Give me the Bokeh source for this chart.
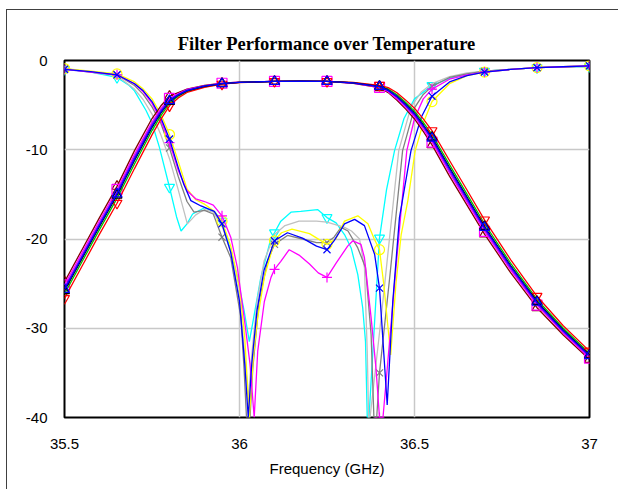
from bokeh.plotting import figure
from bokeh.models import FixedTicker
from bokeh.embed import file_html
from bokeh.resources import INLINE

TITLE = "Filter Performance over Temperature"
X_LABEL = "Frequency (GHz)"
X_TICKS = [35.5, 36.0, 36.5, 37.0]
X_TICK_LABELS = ["35.5", "36", "36.5", "37"]
Y_TICKS = [0, -10, -20, -30, -40]
Y_TICK_LABELS = ["0", "-10", "-20", "-30", "-40"]
MARKER_F = [35.5, 35.65, 35.8, 35.95, 36.1, 36.25, 36.4, 36.55, 36.7, 36.85, 37.0]

# ---- S21 (transmission) traces, one per temperature ----
F21 = [35.5, 35.55, 35.6, 35.65, 35.7, 35.75, 35.775, 35.8, 35.825, 35.85, 35.9, 35.95, 36.0,
       36.1, 36.175, 36.25, 36.325, 36.4, 36.425, 36.45, 36.475, 36.5, 36.525, 36.55, 36.6,
       36.65, 36.7, 36.775, 36.85, 36.925, 37.0]
S21_MAROON = [-24.8, -21.2, -17.6, -14.1, -10.1, -6.5, -5.1, -4.0, -3.6, -3.2, -2.8, -2.55, -2.42,
              -2.35, -2.3, -2.35, -2.55, -3.05, -3.6, -4.45, -5.45, -6.55, -7.95, -9.45, -12.95,
              -16.2, -19.45, -23.8, -27.7, -30.75, -33.5]
S21_MAGENTA = [-25.15, -21.55, -17.95, -14.45, -10.5, -6.9, -5.4, -4.25, -3.7, -3.25, -2.85, -2.55, -2.43,
               -2.35, -2.3, -2.35, -2.53, -3.0, -3.5, -4.3, -5.25, -6.3, -7.7, -9.15, -12.6,
               -15.9, -19.15, -23.5, -27.4, -30.55, -33.35]
S21_VIOLET = [-25.45, -21.85, -18.25, -14.75, -10.8, -7.15, -5.6, -4.4, -3.8, -3.3, -2.85, -2.6, -2.44,
              -2.35, -2.3, -2.35, -2.52, -2.95, -3.4, -4.15, -5.1, -6.15, -7.45, -8.9, -12.35,
              -15.65, -18.9, -23.3, -27.25, -30.4, -33.2]
S21_BLUE = [-25.65, -22.05, -18.45, -14.95, -11.05, -7.35, -5.8, -4.5, -3.85, -3.37, -2.88, -2.6, -2.45,
            -2.35, -2.3, -2.35, -2.5, -2.92, -3.35, -4.05, -4.98, -5.99, -7.3, -8.72, -12.13,
            -15.43, -18.72, -23.1, -27.1, -30.28, -33.07]
S21_BLACK = [-25.8, -22.2, -18.6, -15.1, -11.2, -7.5, -5.9, -4.6, -3.9, -3.4, -2.9, -2.6, -2.45,
             -2.35, -2.3, -2.35, -2.5, -2.9, -3.3, -4.0, -4.9, -5.9, -7.2, -8.6, -12.0,
             -15.3, -18.6, -23.0, -27.0, -30.2, -33.0]
S21_GREEN = [-26.15, -22.55, -18.95, -15.45, -11.6, -7.85, -6.2, -4.8, -4.0, -3.48, -2.94, -2.62, -2.46,
             -2.35, -2.3, -2.35, -2.49, -2.85, -3.19, -3.84, -4.71, -5.67, -6.93, -8.29, -11.66,
             -14.97, -18.29, -22.72, -26.76, -30.0, -32.8]
S21_RED = [-26.66, -23.06, -19.45, -15.99, -12.11, -8.33, -6.6, -5.08, -4.19, -3.58, -3.0, -2.65, -2.47,
           -2.35, -2.3, -2.35, -2.46, -2.78, -3.04, -3.62, -4.44, -5.35, -6.55, -7.86, -11.2,
           -14.51, -17.86, -22.33, -26.42, -29.72, -32.56]

# ---- S11 (return loss) traces, one per temperature ----
F11_CYAN = [35.5, 35.575, 35.65, 35.685, 35.7, 35.733, 35.75, 35.771, 35.8, 35.82, 35.833, 35.85, 35.866,
            35.9, 35.93, 35.95, 35.975, 35.994, 36.013, 36.028, 36.037, 36.061, 36.09, 36.1, 36.118,
            36.147, 36.175, 36.223, 36.25, 36.276, 36.3, 36.319, 36.338, 36.352, 36.36, 36.365, 36.37,
            36.4, 36.42, 36.443, 36.47, 36.5, 36.55, 36.6, 36.65, 36.7, 36.775, 36.85, 36.925, 37.0]
S11_CYAN = [-1.0, -1.3, -1.9, -2.8, -3.4, -5.6, -7.0, -9.7, -14.2, -17.5, -19.1, -18.3, -17.2,
            -16.5, -17.0, -18.0, -21.3, -24.3, -28.0, -31.5, -29.6, -24.3, -19.9, -19.3, -18.0,
            -17.0, -16.9, -16.7, -17.6, -18.2, -19.5, -21.0, -24.0, -27.7, -31.5, -40.0, -40.0,
            -19.9, -14.5, -10.1, -6.5, -4.3, -2.8, -2.0, -1.5, -1.2, -1.0, -0.8, -0.7, -0.7]

F11_SILVER = [35.5, 35.575, 35.65, 35.7, 35.725, 35.75, 35.775, 35.8, 35.825, 35.851, 35.875, 35.9, 35.925,
              35.95, 35.975, 36.0, 36.015, 36.025, 36.035, 36.05, 36.07, 36.1, 36.13, 36.17, 36.22,
              36.25, 36.3, 36.32, 36.343, 36.357, 36.365, 36.369, 36.373, 36.4, 36.415, 36.455, 36.49,
              36.52, 36.55, 36.6, 36.65, 36.7, 36.775, 36.85, 36.925, 37.0]
S11_SILVER = [-0.9, -1.3, -1.7, -3.2, -4.4, -6.0, -8.3, -11.0, -14.5, -18.3, -17.3, -16.7, -17.0,
              -18.5, -21.5, -26.5, -33.0, -38.0, -33.0, -27.0, -22.5, -19.5, -18.5, -18.0, -18.0,
              -18.1, -18.7, -19.1, -20.0, -23.2, -32.6, -40.0, -40.0, -30.5, -25.0, -10.1, -5.2,
              -3.5, -2.6, -1.8, -1.4, -1.2, -1.0, -0.8, -0.7, -0.7]

F11_GRAY = [35.5, 35.575, 35.65, 35.7, 35.725, 35.75, 35.775, 35.8, 35.825, 35.85, 35.87, 35.9, 35.925,
            35.95, 35.975, 36.004, 36.013, 36.02, 36.03, 36.038, 36.056, 36.08, 36.1, 36.137, 36.18,
            36.22, 36.25, 36.27, 36.29, 36.31, 36.338, 36.36, 36.376, 36.384, 36.392, 36.4, 36.43,
            36.466, 36.5, 36.525, 36.55, 36.6, 36.65, 36.7, 36.775, 36.85, 36.925, 37.0]
S11_GRAY = [-0.9, -1.3, -1.6, -2.8, -3.8, -5.2, -7.0, -9.8, -13.0, -15.8, -17.0, -16.8, -17.2,
            -19.8, -22.1, -28.8, -34.5, -40.0, -40.0, -34.5, -27.0, -22.5, -20.6, -19.6, -20.0,
            -20.4, -20.4, -19.8, -18.7, -19.1, -21.0, -23.2, -30.7, -40.0, -40.0, -35.0, -24.0,
            -10.1, -5.3, -3.8, -2.9, -1.9, -1.5, -1.2, -1.0, -0.8, -0.7, -0.6]

F11_YELLOW = [35.5, 35.575, 35.65, 35.7, 35.725, 35.75, 35.775, 35.8, 35.825, 35.85, 35.875, 35.9, 35.925,
              35.95, 35.975, 36.0, 36.015, 36.028, 36.04, 36.052, 36.071, 36.1, 36.12, 36.15, 36.2,
              36.25, 36.275, 36.3, 36.338, 36.367, 36.385, 36.4, 36.412, 36.432, 36.447, 36.462, 36.481,
              36.502, 36.525, 36.55, 36.6, 36.65, 36.7, 36.775, 36.85, 36.925, 37.0]
S11_YELLOW = [-0.9, -1.2, -1.5, -2.4, -3.2, -4.3, -6.0, -8.3, -11.3, -14.4, -15.6, -16.1, -16.8,
              -18.0, -20.8, -25.5, -31.0, -40.0, -33.0, -28.8, -24.3, -20.2, -19.3, -18.9, -19.4,
              -20.6, -20.0, -18.0, -17.4, -18.3, -20.0, -21.2, -25.0, -33.0, -25.0, -19.5, -15.7,
              -10.1, -7.0, -4.6, -2.6, -1.7, -1.3, -1.0, -0.8, -0.7, -0.6]

F11_BLUE = [35.5, 35.575, 35.65, 35.7, 35.725, 35.75, 35.775, 35.8, 35.825, 35.841, 35.861, 35.89, 35.928,
            35.95, 35.975, 36.0, 36.015, 36.025, 36.035, 36.05, 36.07, 36.1, 36.137, 36.18, 36.22,
            36.25, 36.27, 36.3, 36.329, 36.357, 36.386, 36.4, 36.422, 36.438, 36.457, 36.49, 36.52,
            36.55, 36.6, 36.65, 36.7, 36.775, 36.85, 36.925, 37.0]
S11_BLUE = [-1.0, -1.25, -1.6, -2.6, -3.4, -4.6, -6.4, -8.8, -12.0, -13.9, -15.7, -16.3, -16.9,
            -18.3, -21.5, -27.0, -34.0, -40.0, -34.0, -28.0, -23.5, -20.2, -19.3, -19.9, -20.8,
            -21.2, -20.2, -18.3, -17.8, -18.5, -21.7, -25.5, -38.6, -27.0, -17.6, -10.1, -6.3,
            -4.0, -2.4, -1.7, -1.3, -1.0, -0.8, -0.7, -0.6]

F11_MAGENTA = [35.5, 35.575, 35.65, 35.7, 35.725, 35.75, 35.775, 35.8, 35.825, 35.85, 35.875, 35.9, 35.925,
               35.95, 35.975, 35.994, 36.016, 36.03, 36.042, 36.052, 36.071, 36.09, 36.1, 36.118, 36.142,
               36.17, 36.2, 36.225, 36.25, 36.276, 36.309, 36.324, 36.347, 36.357, 36.376, 36.39, 36.4,
               36.41, 36.443, 36.46, 36.478, 36.5, 36.525, 36.55, 36.6, 36.65, 36.7, 36.775, 36.85,
               36.925, 37.0]
S11_MAGENTA = [-1.0, -1.3, -1.6, -2.6, -3.5, -4.8, -6.7, -9.2, -12.3, -14.6, -15.5, -15.8, -16.2,
               -17.4, -19.8, -23.2, -29.6, -34.0, -40.0, -32.6, -27.0, -24.3, -23.4, -22.5, -21.2,
               -21.8, -22.8, -23.8, -24.3, -22.7, -20.8, -20.2, -20.6, -22.1, -28.8, -34.5, -40.0,
               -40.0, -25.0, -17.6, -10.1, -6.5, -4.3, -3.2, -2.1, -1.6, -1.3, -1.0, -0.8,
               -0.7, -0.6]

S11_SERIES = [
    (F11_CYAN, S11_CYAN, "#00ffff", "inverted_triangle"),
    (F11_SILVER, S11_SILVER, "#c0c0c0", None),
    (F11_GRAY, S11_GRAY, "#808080", "x"),
    (F11_YELLOW, S11_YELLOW, "#ffff00", "circle"),
    (F11_MAGENTA, S11_MAGENTA, "#ff00ff", "cross"),
    (F11_BLUE, S11_BLUE, "#0000ff", "x"),
]
S21_SERIES = [
    (S21_MAROON, "#800000", "triangle"),
    (S21_MAGENTA, "#ff00ff", "square"),
    (S21_VIOLET, "#8000ff", None),
    (S21_GREEN, "#00c000", None),
    (S21_RED, "#ff0000", "inverted_triangle"),
    (S21_BLACK, "#000000", "triangle"),
    (S21_BLUE, "#0000ff", "triangle"),
]

p = figure(width=612, height=480, x_range=(35.5, 37.0), y_range=(-40, 0),
           output_backend="svg", toolbar_location=None,
           min_border_left=57, min_border_right=30, min_border_top=50, min_border_bottom=73)
p.styles = {"margin-left": "6px", "margin-top": "9px",
            "border-left": "1px solid #404040", "border-top": "1px solid #404040"}

p.title.text = TITLE
p.title.align = "center"
p.title.text_font = "Liberation Serif"
p.title.text_font_style = "bold"
p.title.text_font_size = "18.5px"
p.title.text_color = "black"
p.title.standoff = 13

p.outline_line_color = "black"
p.outline_line_width = 2

for ax in (p.xaxis[0], p.yaxis[0]):
    ax.axis_line_color = None
    ax.major_tick_line_color = None
    ax.minor_tick_line_color = None
    ax.major_tick_out = 0
    ax.major_tick_in = 0
    ax.minor_tick_out = 0
    ax.major_label_text_font = "Liberation Sans"
    ax.major_label_text_font_size = "15px"
    ax.major_label_text_color = "black"

p.xaxis.ticker = FixedTicker(ticks=X_TICKS)
p.xaxis.major_label_overrides = dict(zip(X_TICKS, X_TICK_LABELS))
p.yaxis.ticker = FixedTicker(ticks=Y_TICKS)
p.yaxis.major_label_overrides = dict(zip(Y_TICKS, Y_TICK_LABELS))
p.xaxis.major_label_standoff = 21
p.yaxis.major_label_standoff = 17
p.xaxis.axis_label = X_LABEL
p.xaxis.axis_label_text_font = "Liberation Sans"
p.xaxis.axis_label_text_font_size = "15px"
p.xaxis.axis_label_text_font_style = "normal"
p.xaxis.axis_label_text_color = "black"
p.xaxis.axis_label_standoff = 8

p.xgrid.ticker = FixedTicker(ticks=X_TICKS)
p.ygrid.ticker = FixedTicker(ticks=Y_TICKS)
p.grid.grid_line_color = "#c8c8c8"
p.grid.grid_line_width = 1.5


def marker_points(fs, vs):
    xs, ys = [], []
    for f, v in zip(fs, vs):
        if any(abs(f - m) < 1e-6 for m in MARKER_F):
            xs.append(f)
            ys.append(v)
    return xs, ys


for fs, vs, col, mk in S11_SERIES:
    p.line(fs, vs, line_color=col, line_width=1.3)
    if mk:
        mx, my = marker_points(fs, vs)
        p.scatter(mx, my, marker=mk, size=10, line_color=col, fill_alpha=0, line_width=1.2)

for vs, col, mk in S21_SERIES:
    p.line(F21, vs, line_color=col, line_width=1.3)
    if mk:
        mx, my = marker_points(F21, vs)
        p.scatter(mx, my, marker=mk, size=10, line_color=col, fill_alpha=0, line_width=1.2)

open("out.html", "w").write(file_html(p, INLINE))
